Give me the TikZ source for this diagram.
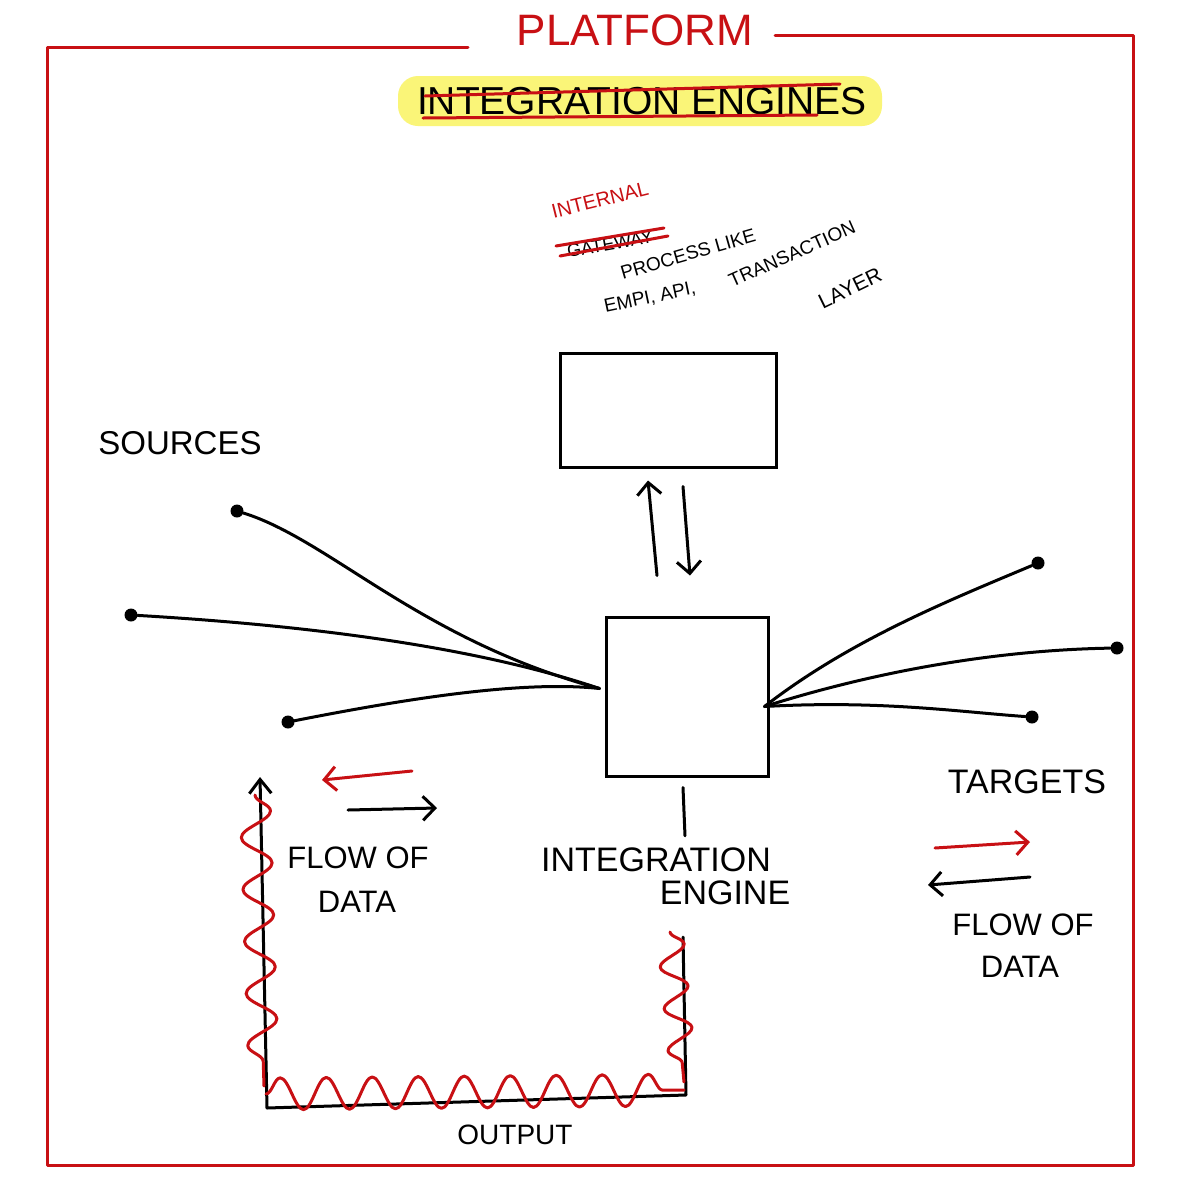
\documentclass[tikz,border=0pt]{standalone}
\usepackage{fontspec}
\setmainfont{Liberation Sans}
\usetikzlibrary{arrows.meta,decorations.pathmorphing,calc}
\definecolor{pen}{RGB}{200,16,20}
\definecolor{hl}{RGB}{250,245,120}
\tikzset{
  ink/.style={line width=3pt,line cap=round,line join=round,black},
  redink/.style={line width=3pt,line cap=round,line join=round,pen},
  squiggle/.style={redink,decorate,decoration={snake,amplitude=#1,segment length=52pt}},
  squiggle/.default=14pt,
  lbl/.style={inner sep=0pt,font=\fontsize{#1}{#1}\selectfont},
  lbl/.default=32,
  box/.style={draw,line width=3pt,inner sep=0pt},
  dot/.style={circle,fill=black,inner sep=0pt,minimum size=13pt},
  barb/.style={-{Straight Barb[length=12pt,width=24pt]}},
}
\begin{document}
\begin{tikzpicture}[x=1pt,y=-1pt]
\useasboundingbox (0,0) rectangle (1177,1200);
\fill[white] (0,0) rectangle (1177,1200);

% frame
\draw[redink] (468,47) -- (47,47) -- (47,1165) -- (1133,1165) -- (1133,35) -- (775,35);
\node[lbl=44,text=pen] (platform) at (635,30) {PLATFORM};

% title highlight
\fill[hl,rounded corners=20pt] (398,76) rectangle (882,126);
\node[lbl=39] (title) at (642,101) {INTEGRATION ENGINES};
\draw[redink] (425,96) -- (840,84);
\draw[redink] (423,118) -- (817,115);

% internal process notes
\node[lbl=20,text=pen,rotate=14] (internal) at (600,200) {INTERNAL};
\node[lbl=18,rotate=10] (gateway) at (610,244) {GATEWAY};
\draw[redink] (560,256) -- (668,236);
\draw[redink] (556,246) -- (664,228);
\node[lbl=19,rotate=16] (process) at (688,254) {PROCESS LIKE};
\node[lbl=19,rotate=12] (empi) at (650,298) {EMPI, API,};
\node[lbl=19,rotate=24] (trans) at (792,254) {TRANSACTION};
\node[lbl=21,rotate=26] (layer) at (850,288) {LAYER};

% boxes
\node[box,minimum width=216pt,minimum height=114pt] (top) at (668,410) {};
\node[box,minimum width=162pt,minimum height=159pt] (eng) at (687,696.5) {};

\coordinate (upS) at ($(eng.north)+(-30,-40)$);
\coordinate (upE) at ($(top.south)+(-20,12)$);
\coordinate (dnS) at ($(top.south)+(15,18)$);
\coordinate (dnE) at ($(eng.north)+(3,-40)$);
\draw[ink,barb] (upS) -- (upE);
\draw[ink,barb] (dnS) -- (dnE);

% sources
\node[lbl=33] (sources) at (180,443) {SOURCES};
\node[dot] (s1) at (237,511) {};
\node[dot] (s2) at (131,615) {};
\node[dot] (s3) at (288,722) {};
\coordinate (hubL) at ($(eng.west)+(-5,-8)$);
\draw[ink] (s1) .. controls (330,540) and (420,640) .. (hubL);
\draw[ink] (s2) .. controls (300,625) and (470,645) .. (hubL);
\draw[ink] (s3) .. controls (400,700) and (520,680) .. (hubL);

% targets
\node[dot] (t1) at (1038,563) {};
\node[dot] (t2) at (1117,648) {};
\node[dot] (t3) at (1032,717) {};
\coordinate (hubR) at ($(eng.east)+(-5,10)$);
\draw[ink] (hubR) .. controls (850,640) and (950,600) .. (t1);
\draw[ink] (hubR) .. controls (880,670) and (1000,650) .. (t2);
\draw[ink] (hubR) .. controls (880,700) and (960,712) .. (t3);
\node[lbl=34] (targets) at (1027,782) {TARGETS};

% engine label
\node[lbl=34] (intlabel) at (656,860) {INTEGRATION};
\node[lbl=34] (englabel) at (725,893) {ENGINE};
\draw[ink] ($(eng.south)+(-4,10)$) -- ($(intlabel.north)+(29,-12)$);

% left flow of data
\draw[redink,barb] (412,771) -- (322,780);
\draw[ink,barb] (348,810) -- (437,808);
\node[lbl=31] (flowL) at (358,858) {FLOW OF};
\node[lbl=31] (dataL) at (357,902) {DATA};

% right flow of data
\draw[redink,barb] (935,848) -- (1030,842);
\draw[ink,barb] (1030,877) -- (928,885);
\node[lbl=31] (flowR) at (1023,925) {FLOW OF};
\node[lbl=31] (dataR) at (1020,967) {DATA};

% output loop
\coordinate (oR) at (683,937);
\coordinate (oBR) at (686,1095);
\coordinate (oBL) at (267,1108);
\coordinate (oTL) at (260,777);
\draw[ink,-{Straight Barb[length=14pt,width=22pt]}] (oR) -- (oBR) -- (oBL) -- (oTL);
\draw[squiggle=15pt] (255,795) -- (264,1086);
\draw[squiggle=16pt,decoration={segment length=46pt}] (266,1094) -- (684,1090);
\draw[squiggle=13pt,decoration={segment length=42pt}] (670,932) -- (684,1082);
\node[lbl=28] (output) at (515,1135) {OUTPUT};
\end{tikzpicture}
\end{document}
